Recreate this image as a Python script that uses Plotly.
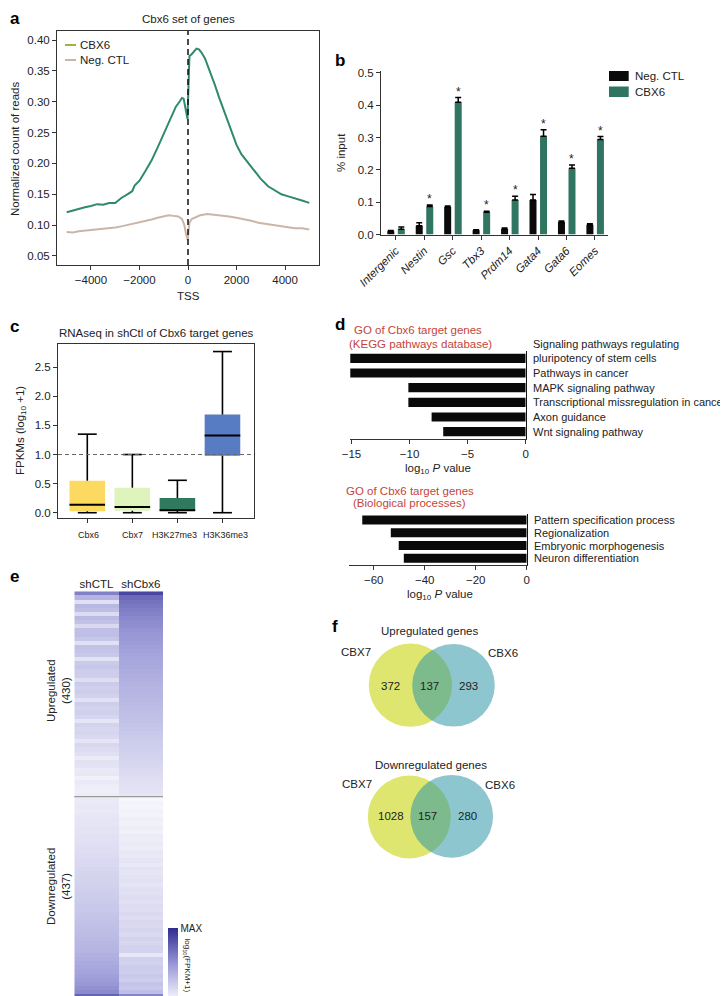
import plotly.graph_objects as go

W, H = 728, 996
def PX(x): return x / W
def PY(y): return 1 - y / H

FONT = "Liberation Sans, Arial, Helvetica, sans-serif"

# ---------------- Panel a: ChIP-seq profile around TSS ----------------
tss_x = [-5000, -4750, -4500, -4250, -4000, -3750, -3500, -3250, -3000, -2750, -2500, -2300,
         -2200, -2000, -1750, -1500, -1250, -1000, -750, -500, -350, -250, -180, -120, -60,
         -20, 0, 20, 60, 150, 250, 350, 450, 550, 700, 900, 1100, 1300, 1500, 1650, 1850,
         2000, 2200, 2500, 2750, 3000, 3300, 3600, 3850, 4100, 4400, 4700, 5000]
cbx6_signal = [0.121, 0.124, 0.127, 0.129, 0.131, 0.134, 0.133, 0.136, 0.136, 0.144, 0.150, 0.155,
               0.164, 0.172, 0.188, 0.205, 0.226, 0.249, 0.270, 0.292, 0.300, 0.306, 0.305, 0.292, 0.276,
               0.272, 0.300, 0.345, 0.374, 0.377, 0.382, 0.386, 0.385, 0.380, 0.370, 0.350, 0.328, 0.305,
               0.283, 0.266, 0.245, 0.230, 0.215, 0.200, 0.187, 0.175, 0.163, 0.156, 0.150, 0.147, 0.144,
               0.140, 0.136]
negctl_x = [-5000, -4750, -4500, -4250, -4000, -3750, -3500, -3250, -3000, -2750, -2500, -2250,
            -2000, -1750, -1500, -1250, -1000, -800, -600, -400, -250, -150, -80, -40, -10, 20, 60,
            150, 300, 500, 800, 1100, 1400, 1700, 2000, 2300, 2600, 2900, 3200, 3500, 3800, 4100,
            4400, 4700, 5000]
negctl_signal = [0.089, 0.088, 0.090, 0.091, 0.091, 0.092, 0.093, 0.094, 0.096, 0.098, 0.100, 0.103,
                 0.104, 0.107, 0.109, 0.112, 0.114, 0.116, 0.115, 0.114, 0.110, 0.100, 0.085, 0.077,
                 0.076, 0.090, 0.104, 0.110, 0.113, 0.116, 0.118, 0.117, 0.116, 0.114, 0.112, 0.110,
                 0.107, 0.104, 0.102, 0.100, 0.098, 0.097, 0.095, 0.095, 0.093]
tss_ticks = [-4000, -2000, 0, 2000, 4000]
signal_ticks = [0.05, 0.10, 0.15, 0.20, 0.25, 0.30, 0.35, 0.40]

# ---------------- Panel b: ChIP-qPCR ----------------
chip_genes = ["Intergenic", "Nestin", "Gsc", "Tbx3", "Prdm14", "Gata4", "Gata6", "Eomes"]
chip_neg = [0.010, 0.027, 0.085, 0.013, 0.017, 0.107, 0.039, 0.030]
chip_neg_err = [0.002, 0.009, 0.003, 0.002, 0.003, 0.017, 0.003, 0.003]
chip_cbx6 = [0.016, 0.087, 0.409, 0.069, 0.107, 0.304, 0.205, 0.294]
chip_cbx6_err = [0.007, 0.004, 0.015, 0.003, 0.011, 0.020, 0.010, 0.009]
chip_sig = [False, True, True, True, True, True, True, True]
input_ticks = [0.0, 0.1, 0.2, 0.3, 0.4, 0.5]

# ---------------- Panel c: RNA-seq boxplots ----------------
box_groups = ["Cbx6", "Cbx7", "H3K27me3", "H3K36me3"]
box_low = [0.0, 0.0, 0.0, 0.0]
box_q1 = [0.024, 0.034, 0.034, 0.98]
box_med = [0.138, 0.098, 0.041, 1.325]
box_q3 = [0.55, 0.43, 0.253, 1.687]
box_high = [1.35, 1.0, 0.557, 2.77]
box_colors = ["#fcd95f", "#def4bc", "#2f7a5f", "#587cc4"]
fpkm_ticks = [0.0, 0.5, 1.0, 1.5, 2.0, 2.5]

# ---------------- Panel d: GO enrichment ----------------
kegg_terms = ["Signaling pathways regulating<br>pluripotency of stem cells", "Pathways in cancer",
              "MAPK signaling pathway", "Transcriptional missregulation in cancer",
              "Axon guidance", "Wnt signaling pathway"]
kegg_log10p = [-15.1, -15.1, -10.1, -10.1, -8.1, -7.1]
kegg_ticks = [-15, -10, -5, 0]
bp_terms = ["Pattern specification process", "Regionalization",
            "Embryonic morphogenesis", "Neuron differentiation"]
bp_log10p = [-64.5, -53.3, -50.2, -48.2]
bp_ticks = [-60, -40, -20, 0]

# ---------------- Panel e: heatmap (rows = binned genes, top to bottom) ----------------
heat_cols = ["shCTL", "shCbx6"]
up_shCTL = [0.62, 0.38, 0.16, 0.36, 0.33, 0.18, 0.35, 0.31, 0.19, 0.32, 0.33, 0.29, 0.15, 0.31, 0.30,
            0.28, 0.14, 0.27, 0.29, 0.26, 0.25, 0.17, 0.27, 0.24, 0.26, 0.23, 0.15, 0.25, 0.22, 0.24,
            0.21, 0.13, 0.22, 0.20, 0.21, 0.19, 0.13, 0.20, 0.18, 0.16, 0.10, 0.15, 0.14, 0.11, 0.12,
            0.07, 0.11, 0.09, 0.08, 0.09]
up_shCbx6 = [0.88, 0.72, 0.68, 0.66, 0.63, 0.61, 0.59, 0.57, 0.56, 0.54, 0.52, 0.51, 0.50, 0.48, 0.47,
             0.46, 0.45, 0.44, 0.43, 0.42, 0.41, 0.40, 0.39, 0.38, 0.38, 0.37, 0.36, 0.35, 0.34, 0.33,
             0.32, 0.31, 0.30, 0.29, 0.28, 0.27, 0.26, 0.25, 0.24, 0.23, 0.22, 0.21, 0.20, 0.19, 0.18,
             0.17, 0.16, 0.15, 0.14, 0.13]
down_shCTL = [0.10, 0.11, 0.12, 0.11, 0.12, 0.13, 0.13, 0.14, 0.14, 0.15, 0.15, 0.16, 0.17, 0.17, 0.18,
              0.19, 0.19, 0.20, 0.21, 0.22, 0.22, 0.23, 0.24, 0.25, 0.26, 0.27, 0.28, 0.28, 0.29, 0.30,
              0.31, 0.32, 0.33, 0.34, 0.35, 0.36, 0.37, 0.38, 0.40, 0.41, 0.43, 0.44, 0.46, 0.48, 0.50,
              0.52, 0.55, 0.58, 0.75, 0.92]
down_shCbx6 = [0.04, 0.06, 0.05, 0.07, 0.06, 0.08, 0.07, 0.09, 0.07, 0.10, 0.09, 0.11, 0.09, 0.12, 0.11,
               0.13, 0.11, 0.14, 0.13, 0.14, 0.15, 0.13, 0.16, 0.15, 0.17, 0.15, 0.18, 0.17, 0.19, 0.17,
               0.20, 0.19, 0.21, 0.19, 0.22, 0.20, 0.23, 0.22, 0.12, 0.24, 0.23, 0.26, 0.25, 0.28, 0.25,
               0.30, 0.28, 0.33, 0.60, 0.42]
up_count, down_count = 430, 437

# ---------------- Panel f: Venn counts ----------------
venn_sets = ["CBX7", "CBX6"]
venn_up = [372, 137, 293]
venn_down = [1028, 157, 280]

fig = go.Figure()

# Panel a traces
fig.add_trace(go.Scatter(x=negctl_x, y=negctl_signal, mode="lines", line=dict(color="#c9b6a8", width=2),
                         xaxis="x", yaxis="y", showlegend=False, hoverinfo="skip"))
fig.add_trace(go.Scatter(x=tss_x, y=cbx6_signal, mode="lines", line=dict(color="#2f8a6c", width=2),
                         xaxis="x", yaxis="y", showlegend=False, hoverinfo="skip"))

# Panel b traces
bw = 0.246
fig.add_trace(go.Bar(x=chip_genes, y=chip_neg, width=bw, offset=-0.299, marker=dict(color="#0a0a0a", line=dict(width=0)),
                     error_y=dict(type="data", symmetric=False, array=chip_neg_err, arrayminus=[0] * len(chip_neg),
                                  color="black", thickness=1.5, width=3),
                     xaxis="x2", yaxis="y2", showlegend=False))
fig.add_trace(go.Bar(x=chip_genes, y=chip_cbx6, width=bw, offset=0.071, marker=dict(color="#2f7562", line=dict(width=0)),
                     error_y=dict(type="data", symmetric=False, array=chip_cbx6_err, arrayminus=[0] * len(chip_cbx6),
                                  color="black", thickness=1.5, width=3),
                     xaxis="x2", yaxis="y2", showlegend=False))

# Panel c traces: box bodies as bars, whiskers/medians as lines
pos = list(range(len(box_groups)))
fig.add_trace(go.Bar(x=pos, y=[q3 - q1 for q1, q3 in zip(box_q1, box_q3)], base=box_q1, width=0.79,
                     marker=dict(color=box_colors, line=dict(width=0)), xaxis="x3", yaxis="y3", showlegend=False))
wx, wy = [], []
cap = 0.21
for i, (lo, q1, q3, hi) in enumerate(zip(box_low, box_q1, box_q3, box_high)):
    wx += [i, i, None, i, i, None, i - cap, i + cap, None, i - cap, i + cap, None]
    wy += [lo, q1, None, q3, hi, None, lo, lo, None, hi, hi, None]
fig.add_trace(go.Scatter(x=wx, y=wy, mode="lines", line=dict(color="black", width=1.6),
                         xaxis="x3", yaxis="y3", showlegend=False, hoverinfo="skip"))
mx, my = [], []
for i, m in enumerate(box_med):
    mx += [i - 0.395, i + 0.395, None]
    my += [m, m, None]
fig.add_trace(go.Scatter(x=mx, y=my, mode="lines", line=dict(color="black", width=2),
                         xaxis="x3", yaxis="y3", showlegend=False, hoverinfo="skip"))

# Panel d traces
fig.add_trace(go.Bar(x=kegg_log10p, y=kegg_terms, orientation="h", width=0.62,
                     marker=dict(color="#0a0a0a", line=dict(width=0)), xaxis="x4", yaxis="y4", showlegend=False))
fig.add_trace(go.Bar(x=bp_log10p, y=bp_terms, orientation="h", width=0.7,
                     marker=dict(color="#0a0a0a", line=dict(width=0)), xaxis="x5", yaxis="y5", showlegend=False))

# Panel e heatmap
ctl_col = up_shCTL + down_shCTL
cbx_col = up_shCbx6 + down_shCbx6
z = [[a, b] for a, b in zip(ctl_col, cbx_col)]
nrows = len(z)
fig.add_trace(go.Heatmap(
    z=z, x=heat_cols, y=list(range(nrows)), zmin=0, zmax=1,
    colorscale=[[0, "#ffffff"], [0.5, "#9d9cd9"], [1, "#2d2b8e"]],
    xaxis="x6", yaxis="y6", hoverinfo="skip",
    colorbar=dict(x=PX(160), xanchor="left", y=PY(995), yanchor="bottom", len=75 / H, lenmode="fraction",
                  thickness=10, thicknessmode="pixels", outlinewidth=0, xpad=0, ypad=0,
                  tickvals=[0, 1], ticktext=["0", "MAX"], ticks="", tickfont=dict(size=10, color="#222"))
))

axis_common = dict(showgrid=False, zeroline=False, linecolor="#333", linewidth=1, automargin=False,
                   ticks="outside", ticklen=4, tickcolor="#333", tickfont=dict(size=11.5, color="#222"))

layout = dict(
    template="none",
    width=W, height=H, autosize=False, margin=dict(l=0, r=0, t=0, b=0, pad=0, autoexpand=False),
    paper_bgcolor="white", plot_bgcolor="rgba(0,0,0,0)",
    font=dict(family=FONT, size=11.5, color="#222"),
    barmode="group", showlegend=False,
    # a
    xaxis=dict(domain=[PX(49), PX(311)], anchor="y", range=[-5400, 5400], tickvals=tss_ticks,
               showline=True, mirror=True, **axis_common),
    yaxis=dict(domain=[PY(257), PY(23)], anchor="x", range=[0.0354, 0.4146], tickvals=signal_ticks,
               tickformat=".2f", showline=True, mirror=True, **axis_common),
    # b
    xaxis2=dict(domain=[PX(373), PX(600)], anchor="y2", type="category", range=[-0.52, 7.46],
                tickvals=chip_genes, ticktext=["<i>%s</i>" % g for g in chip_genes], tickangle=-45,
                showline=True, **axis_common),
    yaxis2=dict(domain=[PY(226.5), PY(63)], anchor="x2", range=[0, 0.506], tickvals=input_ticks,
                tickformat=".1f", showline=True, **axis_common),
    # c
    xaxis3=dict(domain=[PX(50), PX(246)], anchor="y3", range=[-0.65, 3.70], tickvals=pos,
                showticklabels=False, showline=True, mirror=True, **axis_common),
    yaxis3=dict(domain=[PY(510), PY(336)], anchor="x3", range=[-0.091, 2.90], tickvals=fpkm_ticks,
                tickformat=".1f", showline=True, mirror=True, **axis_common),
    # d top
    xaxis4=dict(domain=[PX(341.7), PX(517.7)], anchor="y4", range=[-15.15, 0], tickvals=kegg_ticks,
                showline=True, **axis_common),
    yaxis4=dict(domain=[PY(431), PY(343)], anchor="x4", side="right", type="category", automargin=False,
                range=[len(kegg_terms) - 0.5, -0.5], showline=True, linecolor="#111", linewidth=1.2,
                showticklabels=False, ticks="", showgrid=False, zeroline=False),
    # d bottom
    xaxis5=dict(domain=[PX(341), PX(518.7)], anchor="y5", range=[-69.7, 0], tickvals=bp_ticks,
                showline=True, **axis_common),
    yaxis5=dict(domain=[PY(556.7), PY(505.7)], anchor="x5", side="right", type="category", automargin=False,
                range=[len(bp_terms) - 0.5, -0.5], showline=True, linecolor="#111", linewidth=1.2,
                showticklabels=False, ticks="", showgrid=False, zeroline=False),
    # e
    xaxis6=dict(domain=[PX(66.3), PX(155)], anchor="y6", side="top", type="category", range=[-0.5, 1.5],
                automargin=False, showline=False, ticks="", showgrid=False, zeroline=False,
                tickfont=dict(size=11.5, color="#222")),
    yaxis6=dict(domain=[PY(994), PY(583.3)], anchor="x6", range=[nrows - 0.5, -0.5], visible=False,
                automargin=False),
)

shapes = []
# a: dashed TSS line
shapes.append(dict(type="line", xref="x", yref="y domain", x0=0, x1=0, y0=0, y1=1,
                   line=dict(color="#111", width=1.5, dash="6px,4px")))
# a: legend samples
shapes.append(dict(type="line", xref="paper", yref="paper", x0=PX(57), x1=PX(68), y0=PY(37), y1=PY(37),
                   line=dict(color="#a3b23c", width=2)))
shapes.append(dict(type="line", xref="paper", yref="paper", x0=PX(57), x1=PX(68), y0=PY(52), y1=PY(52),
                   line=dict(color="#c9b6a8", width=2)))
# b: legend swatches
shapes.append(dict(type="rect", xref="paper", yref="paper", x0=PX(601), x1=PX(620.7), y0=PY(73), y1=PY(63),
                   fillcolor="#0a0a0a", line=dict(width=0)))
shapes.append(dict(type="rect", xref="paper", yref="paper", x0=PX(601), x1=PX(620.7), y0=PY(89), y1=PY(78.5),
                   fillcolor="#2f7562", line=dict(width=0)))
# c: dashed line at 1.0
shapes.append(dict(type="line", xref="x3 domain", yref="y3", x0=0, x1=1, y0=1.0, y1=1.0,
                   line=dict(color="#666", width=1, dash="4px,3px")))
# e: divider between up and down
shapes.append(dict(type="line", xref="x6 domain", yref="y6", x0=0, x1=1, y0=len(up_shCTL) - 0.5,
                   y1=len(up_shCTL) - 0.5, line=dict(color="#9a9a9a", width=1.2)))

# f: Venn circles
def circle(cx, cy, r, color, opacity):
    return dict(type="circle", xref="paper", yref="paper", x0=PX(cx - r), x1=PX(cx + r),
                y0=PY(cy + r), y1=PY(cy - r), fillcolor=color, opacity=opacity, line=dict(width=0))
shapes.append(circle(402.4, 677.2, 41.6, "#dee670", 1))
shapes.append(circle(445.5, 677.3, 41.3, "#2d95a4", 0.54))
shapes.append(circle(401.3, 809.0, 41.5, "#dee670", 1))
shapes.append(circle(443.7, 808.3, 41.4, "#2d95a4", 0.54))
layout["shapes"] = shapes

ann = []
def txt(x, y, s, size=11.5, color="#222", xanchor="center", angle=0, bold=False):
    ann.append(dict(x=PX(x), y=PY(y), xref="paper", yref="paper", text=("<b>%s</b>" % s) if bold else s,
                    showarrow=False, xanchor=xanchor, yanchor="middle", textangle=angle,
                    font=dict(size=size, color=color, family=FONT)))

# panel letters
for letter, x, y in [("a", 7, 10), ("b", 332, 53), ("c", 6, 318), ("d", 332, 317), ("e", 6, 568), ("f", 327, 618)]:
    txt(x, y, letter, size=17, color="#000", bold=True)

# a
txt(180, 11, "Cbx6 set of genes")
txt(7, 141, "Normalized count of reads", angle=-90)
txt(180, 288, "TSS")
txt(70, 37, "CBX6", xanchor="left")
txt(70, 52, "Neg. CTL", xanchor="left")
# b
txt(333, 145, "% input", angle=-90)
txt(625, 68, "Neg. CTL", xanchor="left")
txt(625, 84, "CBX6", xanchor="left")
bar_shift = (0.071 + bw / 2) * (227 / 7.98)
for g, v, e, s in zip(chip_genes, chip_cbx6, chip_cbx6_err, chip_sig):
    if s:
        ann.append(dict(x=g, y=v + e, xref="x2", yref="y2", text="*", showarrow=False, xshift=bar_shift,
                        yanchor="bottom", yshift=-3, font=dict(size=12, color="#222", family=FONT)))
# c
txt(148, 325, "RNAseq in shCtl of Cbx6 target genes")
txt(13, 423, "FPKMs (log<sub>10</sub> +1)", angle=-90)
c_label_shift = [1, 0, -3, 3.5]
for i, (g, sh) in enumerate(zip(box_groups, c_label_shift)):
    ann.append(dict(x=i, y=PY(527), xref="x3", yref="paper", text=g, showarrow=False, xshift=sh,
                    xanchor="center", yanchor="middle", font=dict(size=9, color="#222", family=FONT)))
# d
txt(410, 322, "GO of Cbx6 target genes", color="#c4453a")
txt(412, 335.7, "(KEGG pathways database)", color="#c4453a")
txt(430, 460.7, "log<sub>10</sub> <i>P</i> value")
txt(401.7, 482.7, "GO of Cbx6 target genes", color="#c4453a")
txt(401.7, 495, "(Biological processes)", color="#c4453a")
txt(432, 587.3, "log<sub>10</sub> <i>P</i> value")
for i, t in enumerate(kegg_terms):
    ann.append(dict(x=0, y=t, xref="x4", yref="y4", text=t, showarrow=False, xanchor="left", xshift=5,
                    yanchor="middle", yshift=7 if "<br>" in t else 0, align="left",
                    font=dict(size=11, color="#222", family=FONT)))
for t in bp_terms:
    ann.append(dict(x=0, y=t, xref="x5", yref="y5", text=t, showarrow=False, xanchor="left", xshift=5,
                    yanchor="middle", font=dict(size=11, color="#222", family=FONT)))
# e
txt(50, 683, "Upregulated<br>(%d)" % up_count, angle=-90)
txt(50, 879, "Downregulated<br>(%d)" % down_count, angle=-90)
txt(178.5, 957, "log<sub>10</sub>(FPKM+1)", size=8, angle=90)
# f
txt(421.7, 622.7, "Upregulated genes")
txt(348, 644.3, venn_sets[0])
txt(495, 645, venn_sets[1])
for x, v in zip([382, 421.7, 460.7], venn_up):
    txt(x, 677.5, str(v))
txt(423, 756.7, "Downregulated genes")
txt(349, 775.7, venn_sets[0])
txt(491.7, 776.7, venn_sets[1])
for x, v in zip([383.3, 420, 459], venn_down):
    txt(x, 808.3, str(v))

layout["annotations"] = ann
fig.update_layout(**layout)
fig.write_html("out.html")
